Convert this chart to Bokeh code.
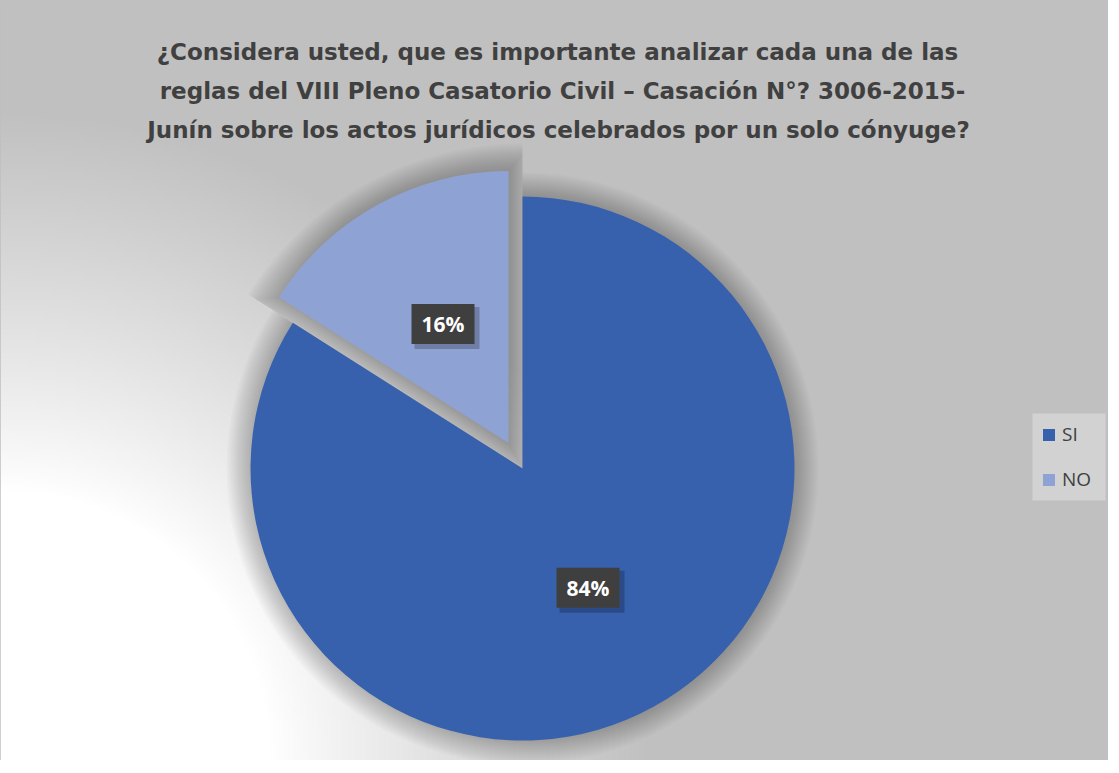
import numpy as np
from bokeh.plotting import figure
from bokeh.models import Range1d, ColumnDataSource, Legend, LegendItem
from bokeh.core.properties import value
from bokeh.embed import file_html
from bokeh.resources import INLINE

# ---- data ----
categories = ["SI", "NO"]
percentages = [84, 16]
colors = ["#3761AD", "#8FA2D4"]
explode = [0, 29]  # pixels
title_lines = [
    " \u00bfConsidera usted, que es importante analizar cada una de las",
    "reglas del VIII Pleno Casatorio Civil \u2013 Casaci\u00f3n N\u00b0? 3006-2015-",
    "Jun\u00edn sobre los actos jur\u00eddicos celebrados por un solo c\u00f3nyuge?",
]

W, H = 1108, 760
def px(x):
    return x - 8
def py(y):
    return H - (y - 8)

p = figure(width=W, height=H, output_backend="svg", toolbar_location=None,
           x_range=Range1d(0, W), y_range=Range1d(0, H),
           x_axis_type=None, y_axis_type=None, min_border=0)
p.grid.visible = False
p.outline_line_color = "#bfbfbf"
p.outline_line_width = 2
p.background_fill_color = "#c0c0c0"
p.border_fill_color = "#c0c0c0"

# background radial gradient (white at bottom-left to gray)
f = 3
gw, gh = W // f + 1, H // f + 1
X, Y = np.meshgrid(np.arange(gw) * f, np.arange(gh) * f)
d = np.sqrt(X ** 2 + Y ** 2)
t = np.clip((d - 270) / 380, 0, 1) ** 0.9
g = (255 - t * (255 - 192)).astype(np.uint32)
img = (np.uint32(255) << 24) | (g << 16) | (g << 8) | g
p.image_rgba(image=[img.astype(np.uint32)], x=0, y=0, dw=gw * f, dh=gh * f)

# pie geometry
cx, cy, R = px(530), py(476), 272
total = sum(percentages)
starts, ends, xc, yc, lx, ly, labels, mids = [], [], [], [], [], [], [], []
acc = 0.0
for cat, v, e in zip(categories, percentages, explode):
    a0 = np.pi / 2 - 2 * np.pi * acc / total
    a1 = np.pi / 2 - 2 * np.pi * (acc + v) / total
    mid = (a0 + a1) / 2
    x0 = cx + e * np.cos(mid)
    y0 = cy + e * np.sin(mid)
    starts.append(a1)
    ends.append(a0)
    mids.append(mid)
    xc.append(x0)
    yc.append(y0)
    lx.append(x0 + 0.5 * R * np.cos(mid))
    ly.append(y0 + 0.5 * R * np.sin(mid))
    labels.append(f"{v}%")
    acc += v

src = ColumnDataSource(dict(x=xc, y=yc, start=starts, end=ends, color=colors,
                            cat=categories, lx=lx, ly=ly, lab=labels))

# soft shadow around the slices (exploded slices get shadow in the gap)
for k in range(1, 13):
    gpx = 2 * k
    sx, sy, rr = [], [], []
    for i in range(len(categories)):
        s = min(explode[i], 2.1 * gpx)
        sx.append(xc[i] - s * np.cos(mids[i]))
        sy.append(yc[i] - s * np.sin(mids[i]))
        rr.append(R + gpx + s)
    p.wedge(x=sx, y=sy, radius=rr, start_angle=starts, end_angle=ends,
            fill_color="black", fill_alpha=0.018, line_color=None)

r_pie = p.wedge(x="x", y="y", radius=R, start_angle="start", end_angle="end",
                fill_color="color", line_color=None, source=src)

# data label boxes
shadow_src = ColumnDataSource(dict(x=[v + 4 for v in lx], y=[v - 4 for v in ly]))
p.rect(x="x", y="y", width=65, height=42, source=shadow_src, fill_color="black",
       fill_alpha=0.22, line_color=None)
p.rect(x="lx", y="ly", width=63, height=40, source=src, fill_color="#3f3f3f",
       line_color=None)
p.text(x="lx", y="ly", text="lab", source=src, text_color="white",
       text_font=value("Open Sans"), text_font_style="bold", text_font_size="21px",
       text_align="center", text_baseline="middle")

# title
tsrc = ColumnDataSource(dict(x=[px(569), px(570), px(566)], y=[py(59), py(98), py(137)],
                             t=title_lines))
p.text(x="x", y="y", text="t", source=tsrc, text_color="#404040",
       text_font=value("DejaVu Sans"), text_font_style="bold", text_font_size="23px",
       text_align="center", text_baseline="alphabetic")

# legend box background
p.quad(left=px(1040), right=px(1113), top=py(421), bottom=py(508),
       fill_color="#d2d2d2", line_color=None)

legend = Legend(items=[LegendItem(label=c, renderers=[r_pie], index=i)
                       for i, c in enumerate(categories)])
legend.background_fill_alpha = 0
legend.border_line_color = None
legend.label_text_font = "Open Sans"
legend.label_text_font_size = "19px"
legend.label_text_color = "#404040"
legend.glyph_width = 15
legend.glyph_height = 15
legend.label_height = 26
legend.spacing = 19
legend.padding = 4
legend.margin = 0
legend.label_standoff = 6
p.add_layout(legend, "center")
legend.location = (px(1040) + 9, H - (500 - 8))

open("out.html", "w").write(file_html(p, INLINE))
